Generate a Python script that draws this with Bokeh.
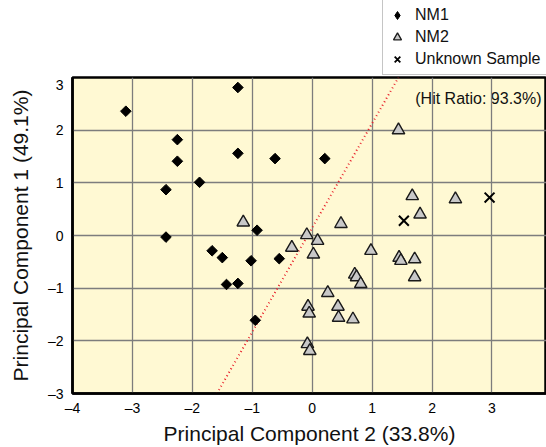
import math
from bokeh.plotting import figure
from bokeh.layouts import column
from bokeh.models import Range1d, FixedTicker, Legend, LegendItem
from bokeh.embed import file_html
from bokeh.resources import INLINE

# ---- data ----
nm1_x = [-3.11, -2.25, -1.24, -1.24, -2.25, -0.62, 0.21, -1.88, -2.44, -2.44,
         -0.92, -1.67, -1.50, -1.02, -0.55, -1.43, -1.24, -0.95]
nm1_y = [2.36, 1.82, 2.81, 1.56, 1.41, 1.46, 1.46, 1.01, 0.87, -0.03,
         0.10, -0.29, -0.42, -0.48, -0.44, -0.93, -0.91, -1.61]

nm2_x = [1.44, -1.15, -0.09, 0.09, -0.34, 0.02, 0.48, 0.98, 1.67, 1.80,
         2.39, 1.45, 1.48, 1.71, 1.71, 0.71, 0.74, 0.81, 0.26, -0.07,
         -0.05, 0.43, 0.44, 0.68, -0.08, -0.04]
nm2_y = [2.00, 0.25, 0.01, -0.10, -0.23, -0.36, 0.22, -0.29, 0.75, 0.40,
         0.69, -0.42, -0.48, -0.45, -0.79, -0.74, -0.79, -0.92, -1.09, -1.35,
         -1.48, -1.35, -1.56, -1.59, -2.06, -2.19]

unknown_x = [1.53, 2.96]
unknown_y = [0.28, 0.72]

boundary_x = [-1.59, 1.44]
boundary_y = [-3.0, 3.0]

x_ticks = [-4, -3, -2, -1, 0, 1, 2, 3, 4]
y_ticks = [-3, -2, -1, 0, 1, 2, 3]

series_labels = ["NM1", "NM2", "Unknown Sample"]

hit_text = "(Hit Ratio: 93.3%)"
hit_x = [1.72]
hit_y = [2.61]

FONT = "Liberation Sans"

def lab(v):
    return ("\u2013" + str(abs(v))) if v < 0 else str(v)

# ---------------- main plot ----------------
p = figure(width=546, height=371, output_backend="svg", toolbar_location=None,
           x_range=Range1d(-4, 3.91), y_range=Range1d(-3, 3),
           min_border_left=72, min_border_right=0, min_border_top=1,
           min_border_bottom=53)

p.background_fill_color = "#FFF9D3"
p.border_fill_color = "white"
p.outline_line_color = "black"
p.outline_line_width = 2.5

for ax, ticks in ((p.xaxis, x_ticks), (p.yaxis, y_ticks)):
    ax.ticker = FixedTicker(ticks=ticks)
    ax.major_label_overrides = {t: lab(t) for t in ticks}
    ax.major_tick_out = 0
    ax.major_tick_in = 0
    ax.minor_tick_out = 0
    ax.minor_tick_in = 0
    ax.axis_line_color = "black"
    ax.axis_line_width = 2.5
    ax.major_label_text_font = FONT
    ax.major_label_text_font_size = "14px"
    ax.major_label_text_color = "black"
    ax.axis_label_text_font = FONT
    ax.axis_label_text_font_size = "21px"
    ax.axis_label_text_font_style = "normal"
    ax.axis_label_text_color = "#111111"

p.xaxis.axis_label = "Principal Component 2 (33.8%)"
p.yaxis.axis_label = "Principal Component 1 (49.1%)"
p.xaxis.major_label_standoff = 6
p.xaxis.axis_label_standoff = 3
p.yaxis.major_label_standoff = 9
p.yaxis.axis_label_standoff = 13

p.xgrid.ticker = FixedTicker(ticks=x_ticks)
p.ygrid.ticker = FixedTicker(ticks=y_ticks)
for g in (p.xgrid, p.ygrid):
    g.grid_line_color = "#7d7d7d"
    g.grid_line_width = 1.3

p.text(x=hit_x, y=hit_y, text=[hit_text], text_font_size="16px",
       text_font={"value": FONT}, text_baseline="middle", text_align="left",
       text_color="#111111", level="image")

p.line(boundary_x, boundary_y, line_color="#E8202A", line_width=2,
       line_dash="1 3")

p.scatter(nm1_x, nm1_y, marker="square", size=7.5, angle=math.pi / 4,
          fill_color="black", line_color="black", line_width=1)
p.scatter(nm2_x, nm2_y, marker="triangle", size=12.5,
          fill_color="#C8C8C8", line_color="#1a1a1a", line_width=1.4)
p.scatter(unknown_x, unknown_y, marker="x", size=14,
          line_color="black", line_width=2)

# ---------------- legend strip above the plot ----------------
# same series, plotted in a strip whose ranges show none of them,
# only so that the strip's legend can draw their keys
top = figure(width=546, height=76, output_backend="svg", toolbar_location=None,
             x_range=Range1d(100, 101), y_range=Range1d(100, 101),
             min_border_left=0, min_border_right=0, min_border_top=0,
             min_border_bottom=0)
top.axis.visible = False
top.grid.visible = False
top.outline_line_color = None
top.background_fill_color = "white"
top.border_fill_color = "white"

k1 = top.scatter(nm1_x, nm1_y, marker="diamond", fill_color="black",
                 line_color="black", line_width=1)
k2 = top.scatter(nm2_x, nm2_y, marker="triangle", fill_color="#C8C8C8",
                 line_color="#1a1a1a", line_width=1.3)
k3 = top.scatter(unknown_x, unknown_y, marker="x", line_color="black",
                 line_width=1.8)

legend = Legend(items=[LegendItem(label=series_labels[0], renderers=[k1]),
                       LegendItem(label=series_labels[1], renderers=[k2]),
                       LegendItem(label=series_labels[2], renderers=[k3])],
                location=(310, 1))
legend.border_line_color = "#8c8c8c"
legend.border_line_width = 1.2
legend.background_fill_color = "white"
legend.background_fill_alpha = 1
legend.padding = 4
legend.margin = 0
legend.spacing = 0
legend.label_height = 22
legend.glyph_height = 22
legend.glyph_width = 20
legend.label_width = 140
legend.label_standoff = 8
legend.label_text_font = FONT
legend.label_text_font_size = "16px"
legend.label_text_color = "#111111"
top.add_layout(legend)

layout = column(top, p, spacing=0)
open("out.html", "w").write(file_html(layout, INLINE))
